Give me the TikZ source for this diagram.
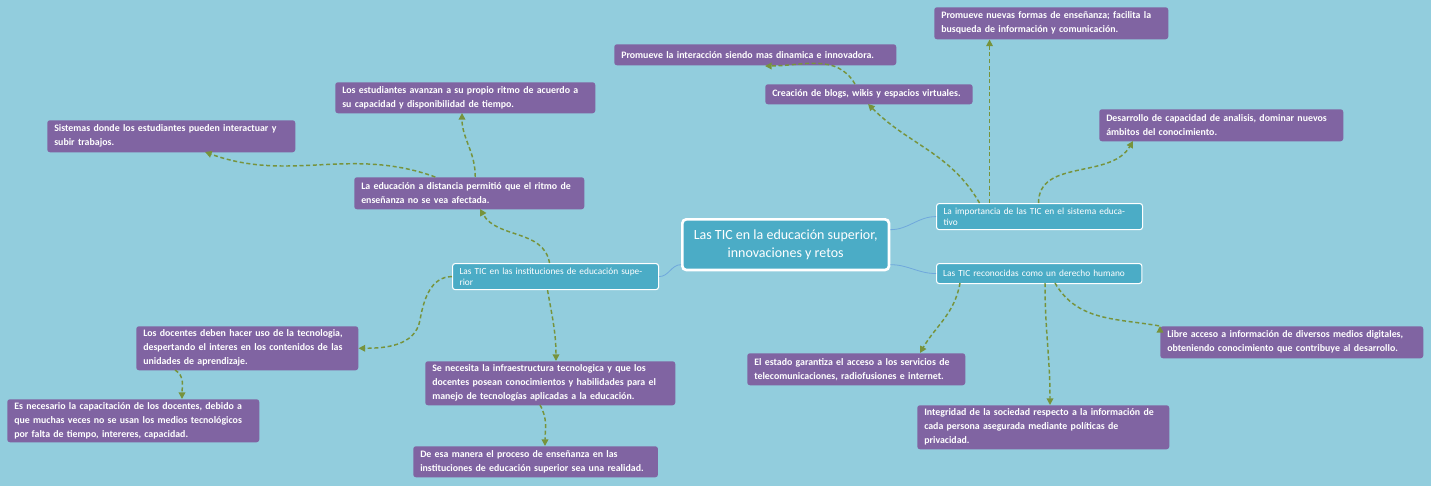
\documentclass[tikz,border=0pt]{standalone}
\usepackage{fontspec}
\setmainfont{Carlito}
\usetikzlibrary{arrows.meta}
\definecolor{bg}{HTML}{92CDDD}
\definecolor{pur}{HTML}{8064A2}
\definecolor{tea}{HTML}{4BACC6}
\definecolor{grn}{HTML}{77933C}
\definecolor{lnk}{HTML}{6FA8DC}
\tikzset{
 pbox/.style={anchor=north west,fill=pur,rounded corners=2pt,text=white,font=\bfseries\fontsize{7.4}{10.5}\selectfont,align=left,inner xsep=5.25pt,inner ysep=2pt},
 tbox/.style={anchor=north west,fill=tea,draw=white,line width=0.8pt,rounded corners=2pt,text=white,font=\fontsize{7}{8}\selectfont,minimum width=154.5pt,minimum height=15pt,inner xsep=5pt,align=left,text width=144pt},
 cbox/.style={anchor=north west,fill=tea,draw=white,line width=2pt,rounded corners=3pt,text=white,font=\fontsize{10.5}{13}\selectfont,minimum width=155pt,minimum height=38pt,align=center},
 arr/.style={draw=grn,line width=1.1pt,dashed,dash pattern=on 3pt off 2pt,-{Triangle[length=5pt,width=5pt]}},
 lk/.style={draw=lnk,line width=0.6pt}
}
\begin{document}
\begin{tikzpicture}[x=0.75pt,y=-0.75pt]
\fill[bg] (0,0) rectangle (1431,486);
\useasboundingbox (0,0) rectangle (1431,486);
\node[cbox] (c) at (681,218) {Las TIC en la educación superior,\\innovaciones y retos};
\node[tbox] (t1) at (936,203) {La importancia de las TIC en el sistema educativo};
\node[tbox,minimum width=150pt] (t2) at (936,263) {Las TIC reconocidas como un derecho humano};
\node[tbox] (t3) at (452,263) {Las TIC en las instituciones de educación superior};
\node[pbox,text width=165pt,minimum height=24pt] (A) at (934,7) {Promueve nuevas formas de enseñanza; facilita la\\busqueda de información y comunicación.};
\node[pbox,text width=201pt,minimum height=15.75pt] (B) at (614,44) {Promueve la interacción siendo mas dinamica e innovadora.};
\node[pbox,text width=145pt,minimum height=15pt] (C) at (765,84) {Creación de blogs, wikis y espacios virtuales.};
\node[pbox,text width=172.5pt,minimum height=24pt] (D) at (1099,109) {Desarrollo de capacidad de analisis, dominar nuevos\\ámbitos del conocimiento.};
\node[pbox,text width=184.5pt,minimum height=23.25pt] (E) at (335,82) {Los estudiantes avanzan a su propio ritmo de acuerdo a\\su capacidad y disponibilidad de tiempo.};
\node[pbox,text width=175.5pt,minimum height=24pt] (F) at (47,120) {Sistemas donde los estudiantes pueden interactuar y\\subir trabajos.};
\node[pbox,text width=162pt,minimum height=24pt] (G) at (354,177) {La educación a distancia permitió que el ritmo de\\enseñanza no se vea afectada.};
\node[pbox,text width=156pt,minimum height=33pt] (H) at (136,326) {Los docentes deben hacer uso de la tecnologia,\\despertando el interes en los contenidos de las\\unidades de aprendizaje.};
\node[pbox,text width=178.5pt,minimum height=32.25pt] (I) at (7,399) {Es necesario la capacitación de los docentes, debido a\\que muchas veces no se usan los medios tecnológicos\\por falta de tiempo, intereres, capacidad.};
\node[pbox,text width=177pt,minimum height=33pt] (J) at (425,361) {Se necesita la infraestructura tecnologica y que los\\docentes posean conocimientos y habilidades para el\\manejo de tecnologías aplicadas a la educación.};
\node[pbox,text width=173pt,minimum height=23.25pt] (K) at (413,446) {De esa manera el proceso de enseñanza en las\\instituciones de educación superior sea una realidad.};
\node[pbox,text width=153pt,minimum height=24pt] (L) at (747,353) {El estado garantiza el acceso a los servicios de\\telecomunicaciones, radiofusiones e internet.};
\node[pbox,text width=186.75pt,minimum height=24pt] (M) at (1160,326) {Libre acceso a información de diversos medios digitales,\\obteniendo conocimiento que contribuye al desarrollo.};
\node[pbox,text width=178.5pt,minimum height=33pt] (N) at (917,405) {Integridad de la sociedad respecto a la información de\\cada persona asegurada mediante políticas de\\privacidad.};
% center links
\draw[lk] (c.east) ++(0,-15) to[out=0,in=180] (t1.west);
\draw[lk] (c.east) ++(0,20) to[out=0,in=180] (t2.west);
\draw[lk] (c.west) ++(0,20) to[out=180,in=0] (t3.east);
% arrows
\draw[arr] (t1.north) ++(-50,0) coordinate (p1) (p1) to[out=90,in=-90] (A.south -| p1);
\draw[arr] (t1.north) ++(-1,0) coordinate (p2) (p2) to[out=90,in=-120] (1133,141);
\draw[arr] (t1.north) ++(-60,0) coordinate (p3) (p3) to[out=120,in=-45] (868,104);
\draw[arr] (C.north) ++(-14,0) coordinate (p4) (p4) to[out=120,in=0] (765,66);
\draw[arr] (t3.north) ++(-6,0) coordinate (p5) (p5) to[out=100,in=-60] (480,209);
\draw[arr] (G.north) ++(6,0) coordinate (p6) (p6) to[out=90,in=-90] (462,113);
\draw[arr] (G.north) ++(-34,0) coordinate (p7) (p7) to[out=160,in=-20] (205,152);
\draw[arr] (t3.west) to[out=180,in=80] (420,320) to[out=-100,in=0] (H.east);
\draw[arr] (175,370) to[out=-30,in=90] (182,399);
\draw[arr] (t3.south) ++(-8,0) coordinate (p8) (p8) to[out=-80,in=90] (556,361);
\draw[arr] (540,405) to[out=-60,in=90] (545,446);
\draw[arr] (960,283) to[out=-100,in=60] (920,353);
\draw[arr] (1045,283) to[out=-90,in=90] (1050,405);
\draw[arr] (1055,283) to[out=-60,in=170] (M.west |- 1265,326) ++(0,0);
\end{tikzpicture}
\end{document}
